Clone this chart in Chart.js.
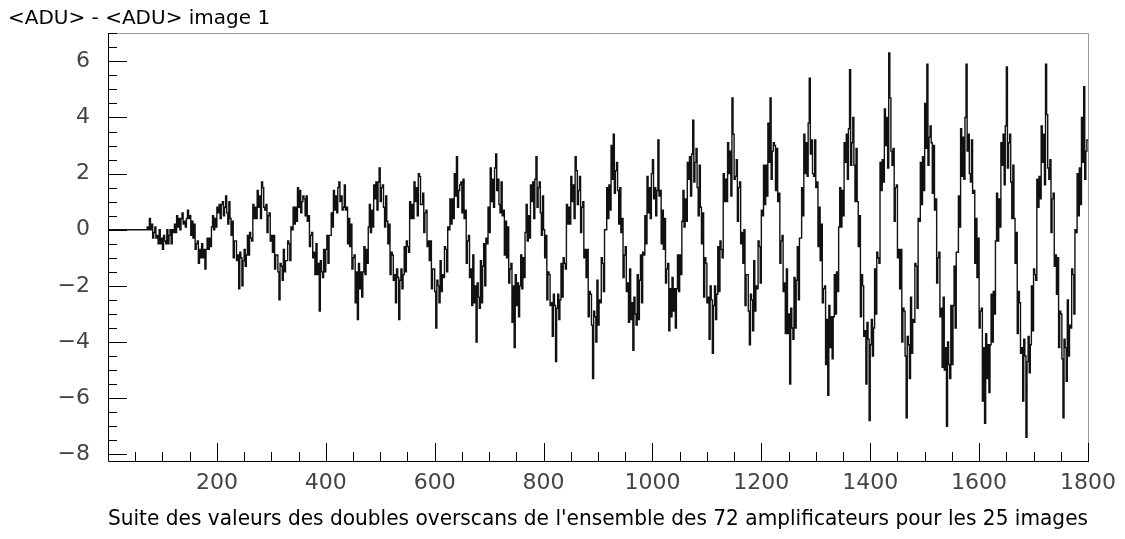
<!DOCTYPE html>
<html>
<head>
<meta charset="utf-8">
<script src="https://cdn.jsdelivr.net/npm/chart.js@4.4.1/dist/chart.umd.min.js"></script>
<style>
  html, body { margin: 0; padding: 0; background: #fff; }
  canvas { display: block; }
</style>
</head>
<body>
<canvas id="chart" width="1125" height="539"></canvas>
<script>
// one array per image, each value = mean of 2 consecutive bins (72 amplifiers -> 36 values)
const img01 = [0,0,0,0,0,0,0,0,0,0,0,0,0,0,0,0,0,0,0,0,0,0,0,0,0,0,0,0,0,0,0,0,0,0,0,0];
const img02 = [0.1,0.0,0.4,0.0,0.2,-0.3,-0.1,0.1,-0.3,-0.2,-0.5,0.0,-0.5,-0.3,-0.7,-0.2,-0.4,-0.5,0.0,-0.5,-0.2,0.0,-0.5,0.0,-0.1,0.2,-0.1,0.5,0.1,0.4,0.0,0.4,0.6,0.2,0.3,0.1];
const img03 = [0.4,0.7,0.4,0.5,-0.2,0.3,-0.3,0.2,-0.7,-0.5,-0.4,-1.2,-0.7,-1.0,-0.5,-1.0,-0.7,-1.4,-0.7,-0.3,-0.7,-0.3,-0.6,0.1,0.5,0.0,0.4,0.1,0.8,0.6,0.9,0.4,0.9,1.0,0.5,0.8];
const img04 = [1.2,0.6,0.2,1.0,0.4,-0.2,0.3,-1.0,-0.4,-0.4,-1.1,-0.9,-2.1,-0.8,-1.0,-2.0,-1.1,-0.7,-1.3,-0.9,-0.2,-0.9,-0.1,-0.3,-0.4,0.9,0.4,0.8,0.4,1.4,0.8,1.2,0.4,1.7,1.5,0.8];
const img05 = [0.7,0.9,-0.1,0.5,0.6,-0.4,-0.2,-0.8,-0.2,-1.4,-0.9,-0.9,-1.5,-2.5,-1.2,-1.3,-1.8,-0.7,-1.5,-1.1,-1.1,-0.4,-0.5,-1.1,0.1,0.0,0.8,0.2,0.8,0.3,1.5,0.8,1.4,0.6,1.0,1.2];
const img06 = [1.1,0.5,1.2,0.3,0.5,-0.6,-0.2,-0.1,-1.0,-0.8,-1.6,-0.5,-1.6,-1.2,-2.9,-1.1,-1.5,-1.7,-0.7,-1.5,-0.7,-0.2,-1.2,-0.2,-0.2,0.6,0.1,1.4,0.7,1.2,0.6,1.5,1.7,1.0,1.2,0.7];
const img07 = [0.8,1.6,0.7,0.8,-0.5,0.4,-0.6,0.2,-1.4,-1.0,-0.9,-2.6,-1.5,-3.2,-1.2,-2.1,-1.5,-2.4,-1.5,-0.6,-1.6,-0.7,-1.2,0.1,0.9,-0.1,0.7,0.1,1.6,1.1,1.7,0.7,1.7,2.2,1.0,1.5];
const img08 = [1.6,0.8,0.1,1.2,0.3,-0.5,0.2,-1.6,-0.8,-0.9,-1.8,-1.6,-2.6,-1.4,-1.7,-3.2,-1.8,-1.4,-2.1,-1.6,-0.6,-1.5,-0.4,-0.6,-0.8,1.0,0.4,0.9,0.4,1.7,1.0,1.5,0.5,2.0,1.9,0.9];
const img09 = [0.9,1.3,-0.1,0.6,0.7,-0.6,-0.4,-1.1,-0.4,-2.1,-1.4,-1.4,-2.2,-3.5,-1.8,-2.0,-2.6,-1.1,-2.2,-1.6,-1.7,-0.6,-0.7,-1.5,0.1,0.0,1.1,0.2,1.1,0.4,2.0,1.2,2.6,0.8,1.4,1.6];
const img10 = [1.7,0.6,1.8,0.4,0.7,-1.2,-0.4,-0.2,-1.7,-1.4,-2.7,-0.9,-2.6,-2.0,-4.0,-1.9,-2.4,-2.8,-1.1,-2.6,-1.3,-0.5,-2.0,-0.3,-0.5,0.8,-0.1,2.2,1.0,1.8,0.8,2.2,2.7,1.4,1.8,0.9];
const img11 = [0.6,1.7,0.5,0.7,-0.9,0.3,-1.0,0.1,-1.9,-1.4,-1.2,-3.3,-2.0,-4.2,-1.6,-2.7,-1.9,-3.1,-2.0,-0.9,-2.1,-1.0,-1.7,-0.1,0.9,-0.4,0.5,-0.3,1.6,1.0,1.7,0.4,1.8,2.6,0.8,1.5];
const img12 = [1.7,0.6,-0.2,1.2,0.0,-1.0,-0.2,-2.5,-1.5,-1.6,-2.7,-2.6,-3.8,-2.3,-2.7,-4.7,-2.8,-2.3,-3.2,-2.5,-1.2,-2.4,-1.0,-1.2,-1.4,0.9,0.2,0.8,0.2,1.9,1.0,1.6,0.4,2.6,2.1,0.9];
const img13 = [1.4,1.9,-0.1,0.8,1.0,-1.0,-0.7,-1.7,-0.7,-3.1,-2.2,-2.3,-3.4,-5.3,-2.9,-3.1,-4.0,-1.8,-3.4,-2.5,-2.6,-1.0,-1.2,-2.2,0.0,0.0,1.5,0.4,1.6,0.7,3.0,1.8,3.4,1.3,2.1,2.4];
const img14 = [1.4,0.2,1.5,-0.1,0.4,-1.7,-0.9,-0.6,-2.2,-1.9,-3.3,-1.4,-3.2,-2.6,-4.3,-2.4,-3.0,-3.4,-1.6,-3.2,-1.8,-0.9,-2.6,-0.8,-0.9,0.5,-0.5,1.9,0.6,1.5,0.4,2.0,2.5,1.1,1.5,0.5];
const img15 = [1.4,3.2,1.2,1.4,-0.5,0.7,-0.7,0.4,-1.9,-1.4,-1.2,-3.6,-2.1,-3.1,-1.7,-2.9,-2.1,-3.5,-2.1,-0.9,-2.2,-0.9,-1.6,0.3,1.4,0.1,1.1,0.3,2.4,1.8,2.6,1.2,2.7,3.9,1.7,2.4];
const img16 = [2.9,1.5,0.5,2.3,0.8,-0.5,0.6,-2.4,-1.0,-1.2,-2.6,-2.4,-3.9,-2.0,-2.5,-4.4,-2.7,-2.0,-3.2,-2.3,-0.6,-2.2,-0.4,-0.7,-1.0,2.0,1.0,1.8,1.0,3.1,2.0,2.8,1.2,4.7,3.4,1.8];
const img17 = [1.9,2.5,0.3,1.5,1.7,-0.5,-0.1,-1.2,0.0,-2.7,-1.6,-1.6,-2.9,-4.1,-2.3,-2.5,-3.6,-1.1,-2.9,-2.0,-2.1,-0.4,-0.6,-1.9,0.7,0.5,2.3,0.9,2.3,1.2,3.8,2.4,4.7,1.8,2.8,3.1];
const img18 = [3.0,1.4,2.9,1.0,1.3,-1.2,-0.4,-0.2,-2.2,-1.9,-3.7,-1.4,-3.7,-3.0,-5.5,-2.8,-3.5,-3.9,-1.7,-3.5,-1.8,-0.6,-2.5,-0.3,-0.3,1.5,0.5,3.4,2.0,3.1,1.9,3.8,5.4,2.7,3.2,2.0];
const img19 = [1.9,3.2,1.5,1.7,-0.6,0.8,-1.1,0.2,-2.6,-2.1,-2.0,-4.8,-3.2,-5.9,-2.7,-4.2,-3.1,-4.6,-3.1,-1.6,-3.0,-1.5,-2.2,0.1,1.5,0.1,1.4,0.5,3.1,2.4,3.4,1.8,3.6,5.7,2.3,3.1];
const img20 = [4.0,2.3,1.0,2.9,1.0,-0.6,0.5,-3.1,-1.6,-2.0,-3.8,-3.6,-5.5,-3.3,-3.9,-6.8,-4.1,-3.2,-4.5,-3.5,-1.4,-3.0,-0.8,-1.0,-1.2,2.4,1.4,2.5,1.7,4.3,3.0,4.0,2.2,6.3,4.7,2.8];
const img21 = [2.3,2.9,0.3,1.5,1.6,-1.0,-0.7,-2.1,-0.7,-4.0,-2.8,-2.9,-4.5,-6.7,-3.8,-4.1,-5.3,-2.4,-4.4,-3.2,-3.3,-1.2,-1.3,-2.8,0.4,0.3,2.4,0.9,2.6,1.4,4.5,2.9,5.9,2.3,3.3,3.7];
const img22 = [3.1,1.3,3.0,0.7,1.1,-1.9,-1.0,-0.8,-3.1,-2.8,-4.9,-2.4,-5.0,-4.2,-7.0,-4.0,-4.8,-5.3,-2.7,-4.8,-2.7,-1.3,-3.5,-0.8,-0.8,1.2,0.1,3.6,1.9,3.3,1.8,4.0,5.9,2.8,3.4,2.0];
const img23 = [1.7,3.2,1.3,1.4,-1.2,0.4,-1.7,-0.3,-3.5,-2.9,-2.8,-6.1,-4.2,-6.9,-3.7,-5.3,-4.1,-5.8,-4.1,-2.3,-4.0,-2.2,-3.0,-0.4,1.3,-0.4,1.1,0.1,3.1,2.3,3.4,1.6,3.7,5.8,2.2,3.1];
const img24 = [3.4,1.7,0.4,2.3,0.4,-1.2,-0.1,-3.7,-2.2,-2.6,-4.4,-4.2,-6.1,-3.9,-4.5,-7.4,-4.7,-3.8,-5.1,-4.1,-2.0,-3.6,-1.4,-1.6,-1.8,1.8,0.8,1.9,1.1,3.7,2.4,3.4,1.6,5.9,4.1,2.2];
const img25 = [1.8,2.5,-0.1,1.1,1.3,-1.3,-0.9,-2.3,-1.0,-4.2,-2.9,-3.0,-4.6,-6.7,-3.9,-4.2,-5.4,-2.5,-4.5,-3.4,-3.5,-1.4,-1.6,-3.0,0.0,-0.1,2.0,0.5,2.2,0.9,4.0,2.4,5.1,1.8,2.8,3.2];

const images = [img01, img02, img03, img04, img05, img06, img07, img08, img09, img10, img11, img12, img13,
                img14, img15, img16, img17, img18, img19, img20, img21, img22, img23, img24, img25];

const yTickValues = [-8, -6, -4, -2, 0, 2, 4, 6];
const xTickValues = [200, 400, 600, 800, 1000, 1200, 1400, 1600, 1800];

const chartTitle = '<ADU> - <ADU> image 1';
const xTitle = "Suite des valeurs des doubles overscans de l'ensemble des 72 amplificateurs pour les 25 images";

const binsPerImage = 72;
const binsPerValue = 2;

// histogram points at bin left edges
const points = [];
images.forEach((vals, i) => {
    vals.forEach((v, p) => {
        points.push({x: i * binsPerImage + p * binsPerValue, y: v});
    });
});
points.push({x: images.length * binsPerImage, y: img25[img25.length - 1]});

const FONT = '"DejaVu Sans", "Liberation Sans", Arial, sans-serif';

// ROOT-like frame with inner ticks, plus the top-left title
const frameTicks = {
    id: 'frameTicks',
    afterDraw(chart) {
        const ctx = chart.ctx;
        const a = chart.chartArea;
        const xs = chart.scales.x;
        const ys = chart.scales.y;
        ctx.save();
        ctx.lineWidth = 1;
        ctx.strokeStyle = '#999';
        ctx.beginPath();
        ctx.moveTo(a.left, a.top + 0.5);
        ctx.lineTo(a.right + 0.5, a.top + 0.5);
        ctx.lineTo(a.right + 0.5, a.bottom);
        ctx.stroke();

        ctx.strokeStyle = '#000';
        ctx.beginPath();
        ctx.moveTo(a.left + 0.5, a.top);
        ctx.lineTo(a.left + 0.5, a.bottom + 0.5);
        ctx.lineTo(a.right + 1, a.bottom + 0.5);

        for (let v = 50; v <= 1800; v += 50) {
            const px = Math.round(xs.getPixelForValue(v)) + 0.5;
            const len = v % 200 === 0 ? 18 : 9;
            ctx.moveTo(px, a.bottom);
            ctx.lineTo(px, a.bottom - len);
        }
        for (let v = -8; v <= 7; v += 0.5) {
            const py = Math.round(ys.getPixelForValue(v)) + 0.5;
            const len = v % 2 === 0 ? 19 : 9;
            ctx.moveTo(a.left, py);
            ctx.lineTo(a.left + len, py);
        }
        ctx.stroke();

        ctx.fillStyle = '#000';
        ctx.font = '20px ' + FONT;
        ctx.textAlign = 'left';
        ctx.textBaseline = 'middle';
        ctx.fillText(chartTitle, 8, 19);
        ctx.restore();
    }
};

new Chart(document.getElementById('chart'), {
    type: 'line',
    data: {
        datasets: [{
            data: points,
            borderColor: '#111',
            borderWidth: 1.4,
            pointRadius: 0,
            fill: false,
            tension: 0,
            stepped: true
        }]
    },
    options: {
        responsive: false,
        animation: false,
        devicePixelRatio: 1,
        layout: { padding: { left: 8, right: 37, top: 33, bottom: 0 } },
        plugins: {
            legend: { display: false },
            tooltip: { enabled: false },
            title: { display: false }
        },
        scales: {
            x: {
                type: 'linear',
                min: 0,
                max: 1800,
                afterFit(scale) {
                    scale.height = 78;
                    scale.paddingLeft = 0;
                    scale.paddingRight = 0;
                },
                afterBuildTicks(scale) { scale.ticks = xTickValues.map(v => ({value: v})); },
                grid: { display: false, drawTicks: false },
                border: { display: false },
                ticks: {
                    autoSkip: false,
                    maxRotation: 0,
                    padding: 9,
                    color: '#444',
                    font: { family: FONT, size: 22 },
                    callback: v => String(v)
                },
                title: {
                    display: true,
                    text: xTitle,
                    align: 'end',
                    color: '#000',
                    font: { family: FONT, size: 20.5 },
                    padding: { top: 0, bottom: 7 }
                }
            },
            y: {
                min: -8.24,
                max: 7.01,
                afterFit(scale) {
                    scale.width = 100;
                    scale.paddingTop = 0;
                    scale.paddingBottom = 0;
                },
                afterBuildTicks(scale) { scale.ticks = yTickValues.map(v => ({value: v})); },
                grid: { display: false, drawTicks: false },
                border: { display: false },
                ticks: {
                    padding: 18,
                    color: '#444',
                    font: { family: FONT, size: 22 },
                    callback: v => String(v).replace('-', '\u2212')
                }
            }
        }
    },
    plugins: [frameTicks]
});
</script>
</body>
</html>
